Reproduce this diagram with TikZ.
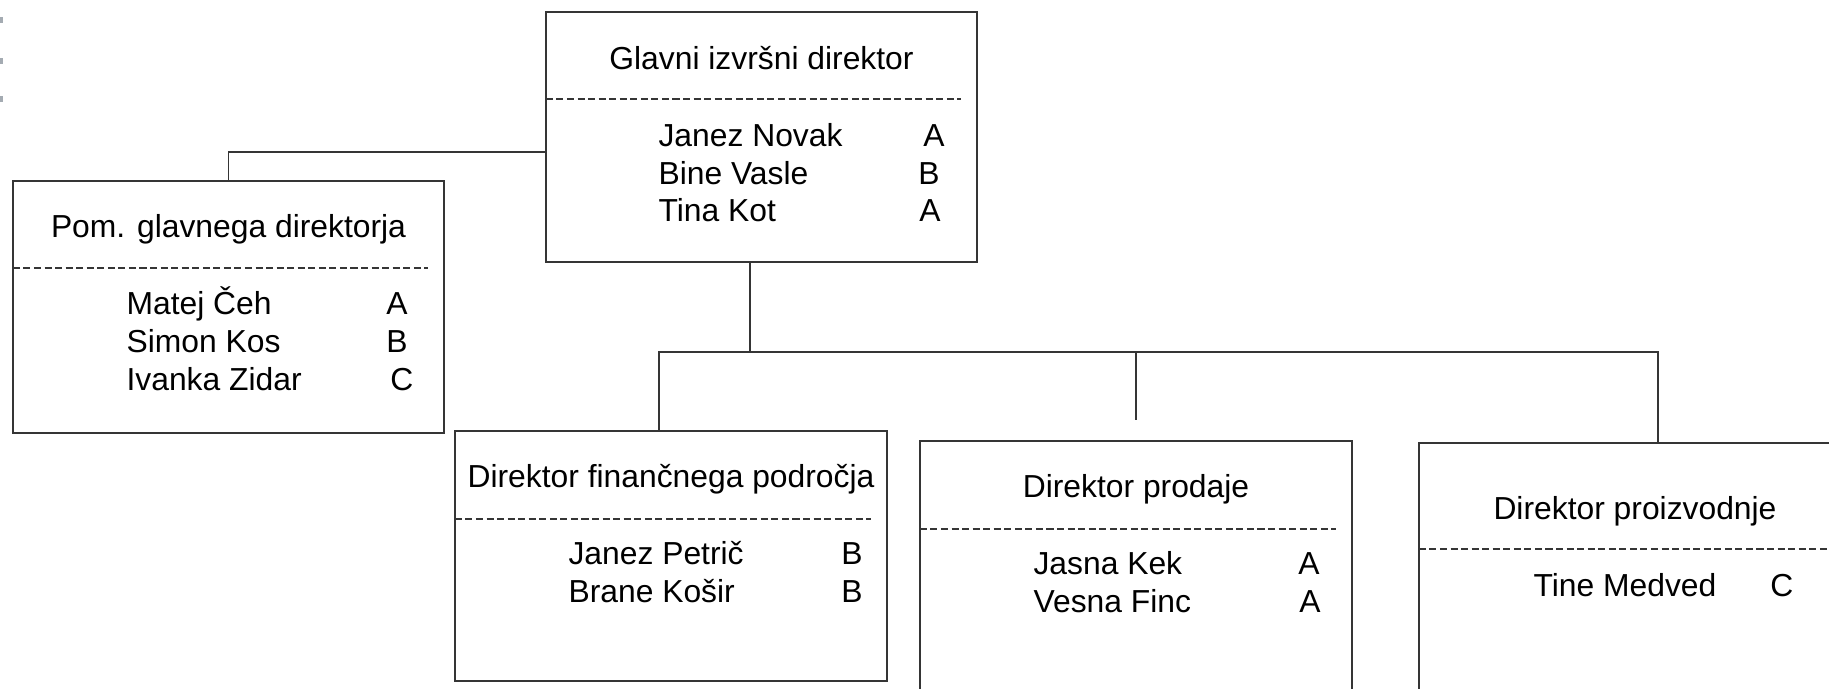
\documentclass[tikz,border=0pt]{standalone}
\usepackage{fontspec}
\setmainfont{Liberation Sans}
\usepackage{tikz}
\usetikzlibrary{calc}
\definecolor{linegray}{HTML}{353535}
\definecolor{markgray}{HTML}{A4ABB2}
\newcommand{\orgfont}{\fontsize{9.05}{10.8}\selectfont}
\tikzset{
  orgbox/.style={
    draw=linegray,
    line width=0.55pt,
    inner sep=0pt,
    outer sep=0pt,
    minimum width=4.32cm,
    minimum height=2.50cm
  },
  titletext/.style={anchor=base, font=\orgfont, inner sep=0pt},
  nametext/.style={anchor=base west, font=\orgfont, inner sep=0pt},
  gradetext/.style={anchor=base, font=\orgfont, inner sep=0pt},
  sepline/.style={draw=linegray, line width=0.65pt, dash pattern=on 2pt off 1pt},
  orgline/.style={draw=linegray, line width=0.55pt}
}

\begin{document}
\begin{tikzpicture}[x=0.01cm, y=-0.01cm]
  \useasboundingbox (0,0) rectangle (1829,689);
  \clip (0,0) rectangle (1829,689);

  % stray marks at the left edge
  \foreach \y in {20,61,99}
    \fill[markgray] (0,\y-3) rectangle (3,\y+3);

  % boxes
  \node[orgbox,minimum width=4.31cm] (ceo) at (761.5,137) {};
  \node[orgbox,minimum width=4.31cm,minimum height=2.52cm] (pom) at (228.5,307) {};
  \node[orgbox] (fin) at (671,556) {};
  \node[orgbox] (sales) at (1136,566) {};
  \node[orgbox] (prod) at (1635,568) {};

  % Glavni izvrsni direktor
  \node[titletext] (ceot) at ($(ceo.north)+(0,58)$) {Glavni izvršni direktor};
  \draw[sepline] ($(ceo.north west)+(0,87)$) -- ($(ceo.north east)+(-16,87)$);
  \node[nametext] (ceon1) at ($(ceo.north west)+(112,135)$) {Janez Novak};
  \node[nametext] (ceon2) at ($(ceo.north west)+(112,172.5)$) {Bine Vasle};
  \node[nametext] (ceon3) at ($(ceo.north west)+(112,210)$) {Tina Kot};
  \node[gradetext] (ceog1) at ($(ceo.north west)+(388,135)$) {A};
  \node[gradetext] (ceog2) at ($(ceo.north west)+(383,172.5)$) {B};
  \node[gradetext] (ceog3) at ($(ceo.north west)+(384,210)$) {A};

  % Pom. glavnega direktorja
  \node[titletext] (pomt) at ($(pom.north)+(0,57)$) {Pom. glavnega direktorja};
  \draw[sepline] ($(pom.north west)+(0,87)$) -- ($(pom.north east)+(-16,87)$);
  \node[nametext] (pomn1) at ($(pom.north west)+(113,134)$) {Matej Čeh};
  \node[nametext] (pomn2) at ($(pom.north west)+(113,172)$) {Simon Kos};
  \node[nametext] (pomn3) at ($(pom.north west)+(113,210)$) {Ivanka Zidar};
  \node[gradetext] (pomg1) at ($(pom.north west)+(384,134)$) {A};
  \node[gradetext] (pomg2) at ($(pom.north west)+(384,172)$) {B};
  \node[gradetext] (pomg3) at ($(pom.north west)+(389,210)$) {C};

  % Direktor financnega podrocja
  \node[titletext] (fint) at ($(fin.north)+(0,57)$) {Direktor finančnega področja};
  \draw[sepline] ($(fin.north west)+(0,88)$) -- ($(fin.north east)+(-16,88)$);
  \node[nametext] (finn1) at ($(fin.north west)+(113,134)$) {Janez Petrič};
  \node[nametext] (finn2) at ($(fin.north west)+(113,172)$) {Brane Košir};
  \node[gradetext] (fing1) at ($(fin.north west)+(397,134)$) {B};
  \node[gradetext] (fing2) at ($(fin.north west)+(397,172)$) {B};

  % Direktor prodaje
  \node[titletext] (salest) at ($(sales.north)+(0,57)$) {Direktor prodaje};
  \draw[sepline] ($(sales.north west)+(0,88)$) -- ($(sales.north east)+(-16,88)$);
  \node[nametext] (salesn1) at ($(sales.north west)+(113,134)$) {Jasna Kek};
  \node[nametext] (salesn2) at ($(sales.north west)+(113,172)$) {Vesna Finc};
  \node[gradetext] (salesg1) at ($(sales.north west)+(389,134)$) {A};
  \node[gradetext] (salesg2) at ($(sales.north west)+(390,172)$) {A};

  % Direktor proizvodnje
  \node[titletext] (prodt) at ($(prod.north)+(0,77)$) {Direktor proizvodnje};
  \draw[sepline] ($(prod.north west)+(0,106)$) -- ($(prod.north east)+(-16,106)$);
  \node[nametext] (prodn1) at ($(prod.north west)+(114,154)$) {Tine Medved};
  \node[gradetext] (prodg1) at ($(prod.north west)+(363,154)$) {C};

  % connectors
  \coordinate (hub) at (750,352);
  \draw[orgline] ($(ceo.west)+(0,15)$) -| (pom.north);
  \draw[orgline] ($(ceo.south)+(-11.5,0)$) -- (hub);
  \draw[orgline] (hub) -| ($(fin.north)+(-12,0)$);
  \draw[orgline] (hub) -| ($(prod.north)+(23,0)$);
  \draw[orgline] (hub -| sales.north) -- ($(sales.north)+(0,-21)$);
\end{tikzpicture}
\end{document}
